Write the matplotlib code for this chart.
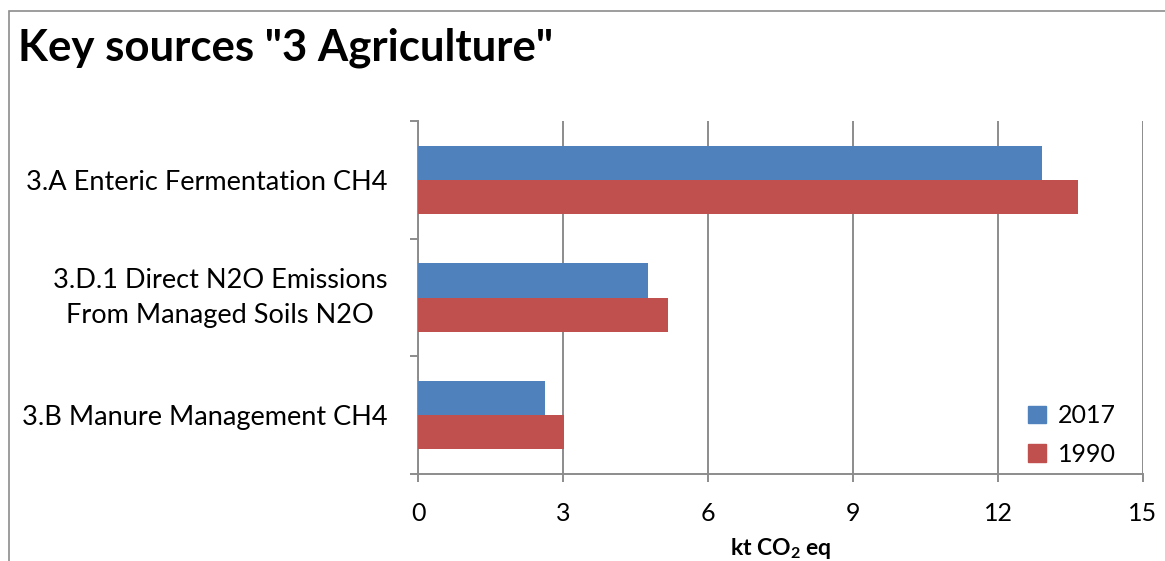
import matplotlib
matplotlib.use("Agg")
import matplotlib.pyplot as plt
from matplotlib.patches import Rectangle, Patch
import numpy as np

plt.rcParams['font.family'] = ['Lato', 'DejaVu Sans']
plt.rcParams['mathtext.fontset'] = 'custom'
plt.rcParams['mathtext.bf'] = 'Lato:bold'
plt.rcParams['mathtext.rm'] = 'Lato'

categories = ["3.A Enteric Fermentation CH4",
              "3.D.1 Direct N2O Emissions\nFrom Managed Soils N2O",
              "3.B Manure Management CH4"]
values_2017 = [12.91, 4.76, 2.62]
values_1990 = [13.66, 5.18, 3.03]
series_labels = ["2017", "1990"]
xticks = [0, 3, 6, 9, 12, 15]

W, H = 1165, 561
fig = plt.figure(figsize=(W/100, H/100), dpi=100)
ax = fig.add_axes([418/W, 1-474/H, (1143-418)/W, (474-121)/H])

blue = "#4F81BD"
red = "#C0504D"
grid_c = "#8C8C8C"

y = np.arange(len(categories))[::-1].astype(float)
h = 0.29
ax.barh(y + h/2, values_2017, height=h, color=blue, zorder=3, label=series_labels[0])
ax.barh(y - h/2, values_1990, height=h, color=red, zorder=3, label=series_labels[1])

ax.set_xlim(0, 15)
ax.set_ylim(-0.5, 2.5)
ax.set_xticks(xticks)
ax.set_xticklabels([str(t) for t in xticks], fontsize=18)
ax.set_yticks(y)
ax.set_yticklabels(categories, fontsize=19.5, multialignment='center', linespacing=1.5)
for lab in ax.get_yticklabels():
    if "\n" in lab.get_text():
        lab.set_va('center')
ax.set_yticks([-0.5, 0.5, 1.5, 2.5], minor=True)

ax.tick_params(axis='y', which='major', length=0, pad=22)
ax.tick_params(axis='y', which='minor', length=6, width=1.4, color=grid_c)
ax.tick_params(axis='x', which='major', length=6, width=1.4, color=grid_c, pad=14)

ax.grid(axis='x', color=grid_c, linewidth=1.4, zorder=0)
for s in ['top', 'right']:
    ax.spines[s].set_visible(False)
for s in ['left', 'bottom']:
    ax.spines[s].set_color(grid_c)
    ax.spines[s].set_linewidth(1.4)

ax.set_xlabel(r"kt CO$\mathbf{_2}$ eq", fontsize=16.5, fontweight='bold', labelpad=8)

handles = [Patch(color=blue), Patch(color=red)]
ax.legend(handles, series_labels, loc='lower right', bbox_to_anchor=(0.977, -0.005),
          frameon=False, fontsize=18, handlelength=0.7, handleheight=0.7,
          handletextpad=0.5, labelspacing=0.62, borderaxespad=0.0)

fig.text(18/W, 1-48/H, 'Key sources "3 Agriculture"', fontsize=31.5, fontweight='bold',
         va='center', ha='left')

fig.patches.append(Rectangle((9/W, -0.1), 1.2, (1-11/H)+0.1, transform=fig.transFigure,
                             fill=False, edgecolor="#8C8C8C", linewidth=1.2))

fig.savefig("out.png", dpi=100)
